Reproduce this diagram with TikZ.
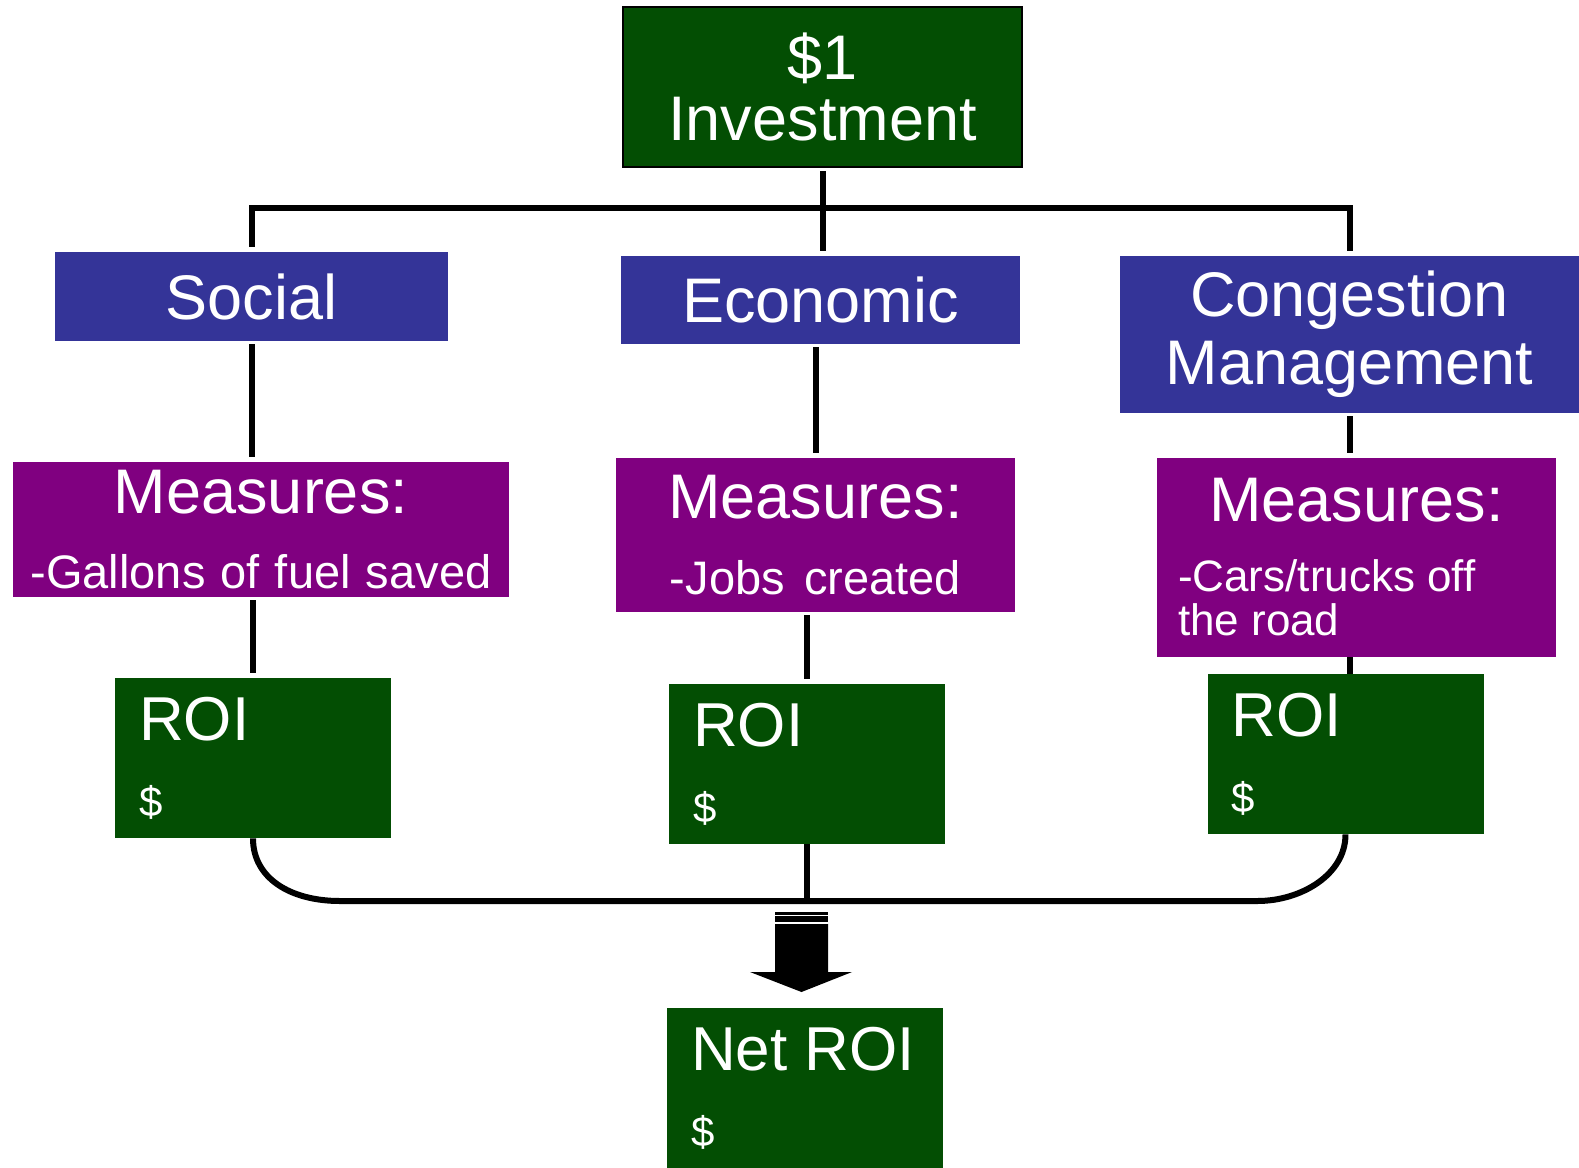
\documentclass[tikz,border=0pt]{standalone}
\usepackage{fontspec}
\setmainfont{Liberation Sans}
\usetikzlibrary{calc}
\definecolor{roigreen}{RGB}{3,78,3}
\definecolor{areablue}{RGB}{52,52,152}
\definecolor{measpurple}{RGB}{128,0,128}
\newcommand{\wordsp}{\spaceskip=0.278em plus 0.1em\relax}
\newcommand{\bigtxt}{\fontsize{31.5}{30.5}\selectfont\wordsp}
\newcommand{\roitxt}{\fontsize{31}{31}\selectfont\wordsp}
\newcommand{\subtxt}{\fontsize{23.5}{22}\selectfont\wordsp}
\newcommand{\dollartxt}{\fontsize{21}{38}\selectfont}

\begin{document}
\begin{tikzpicture}[x=0.5pt,y=-0.5pt]
\tikzstyle{conn} = [line width=3pt, black]
\tikzstyle{gapped} = [conn, shorten <=1.5pt, shorten >=2.5pt]
\tikzstyle{greenbox} = [rectangle, fill=roigreen, text=white, inner sep=0pt]
\tikzstyle{areabox} = [rectangle, fill=areablue, text=white, inner sep=0pt, align=center, font=\bigtxt]
\tikzstyle{measbox} = [rectangle, fill=measpurple, text=white, inner sep=0pt, align=center]
\tikzstyle{roibox} = [greenbox, inner xsep=12pt, text width=114pt, minimum height=80pt, align=left]
\useasboundingbox (0,0) rectangle (1579,1167);
% investment and the three areas
\node[greenbox, draw=black, line width=1pt, minimum width=199.5pt, minimum height=80pt,
  align=center, font=\bigtxt] (inv) at (822.5,87) {\$1\\Investment};
\node[areabox, minimum width=196.5pt, minimum height=44.5pt] (soc) at (251.5,296.5) {Social};
\node[areabox, minimum width=199.5pt, minimum height=44pt] (eco) at (820.5,300) {Economic};
\node[areabox, minimum width=229.5pt, minimum height=78.5pt,
  font=\fontsize{31.5}{34}\selectfont] (con) at (1349.5,334.5) {Congestion\\Management};
% measures
\node[measbox, text width=248pt, minimum height=67.5pt] (msoc) at (261,529.5)
  {{\bigtxt Measures:\par}\vspace{15.5pt}{\subtxt -Gallons of fuel saved\par}};
\node[measbox, text width=199.5pt, minimum height=77pt] (meco) at (815.5,535)
  {{\bigtxt Measures:\par}\vspace{16pt}{\subtxt -Jobs created\par}};
\node[measbox, inner xsep=10.5pt, text width=178.5pt, minimum height=99.5pt] (mcon) at (1356.5,557.5)
  {{\bigtxt Measures:\par}\vspace{13pt}{\fontsize{22}{22}\selectfont\wordsp\raggedright -Cars/trucks off\\the road\par}};
% returns
\node[roibox] (rsoc) at (253,758) {{\roitxt ROI\par}{\dollartxt\$\par}};
\node[roibox] (reco) at (807,764) {{\roitxt ROI\par}{\dollartxt\$\par}};
\node[roibox] (rcon) at (1345.5,754) {{\roitxt ROI\par}{\dollartxt\$\par}};
\node[roibox] (net) at (805,1088) {{\roitxt Net ROI\par}{\dollartxt\$\par}};

\coordinate (bar) at (0,208);
\coordinate (base) at (0,901);
\coordinate (arr) at (801.5,912);

\draw[conn, shorten <=2.5pt, shorten >=2.5pt] (soc.north) -- (soc.north |- bar) -- (con.north |- bar) -- (con.north);
\draw[gapped] (inv.south) -- (inv.south |- eco.north);
\draw[gapped] (soc.south) -- (soc.south |- msoc.north);
\draw[gapped] (rsoc.north |- msoc.south) -- (rsoc.north);
\draw[gapped] (meco.north |- eco.south) -- (meco.north);
\draw[gapped] (reco.north |- meco.south) -- (reco.north);
\draw[gapped] (con.south) -- (con.south |- mcon.north);
\draw[conn] (con.south |- mcon.south) -- (con.south |- rcon.north);
% bottom bracket
\draw[conn] (rsoc.south) .. controls ($(rsoc.south |- base)+(0,-23)$) and ($(rsoc.south |- base)+(37,0)$)
  .. ($(rsoc.south |- base)+(87,0)$) -- ($(rcon.south |- base)+(-88,0)$)
  .. controls ($(rcon.south |- base)+(-45,0)$) and ($(rcon.south |- base)+(0,-26)$) .. (rcon.south);
\draw[conn] (reco.south) -- (reco.south |- base);
% block arrow
\begin{scope}[shift={(arr)}]
\fill (-26.5,0) rectangle (26.5,2.5);
\fill (-26.5,4) rectangle (26.5,10);
\fill (-26.5,12) -- (26.5,12) -- (26.5,60) -- (50.5,60) -- (0,80) -- (-51.5,60) -- (-26.5,60) -- cycle;
\end{scope}
\end{tikzpicture}
\end{document}
